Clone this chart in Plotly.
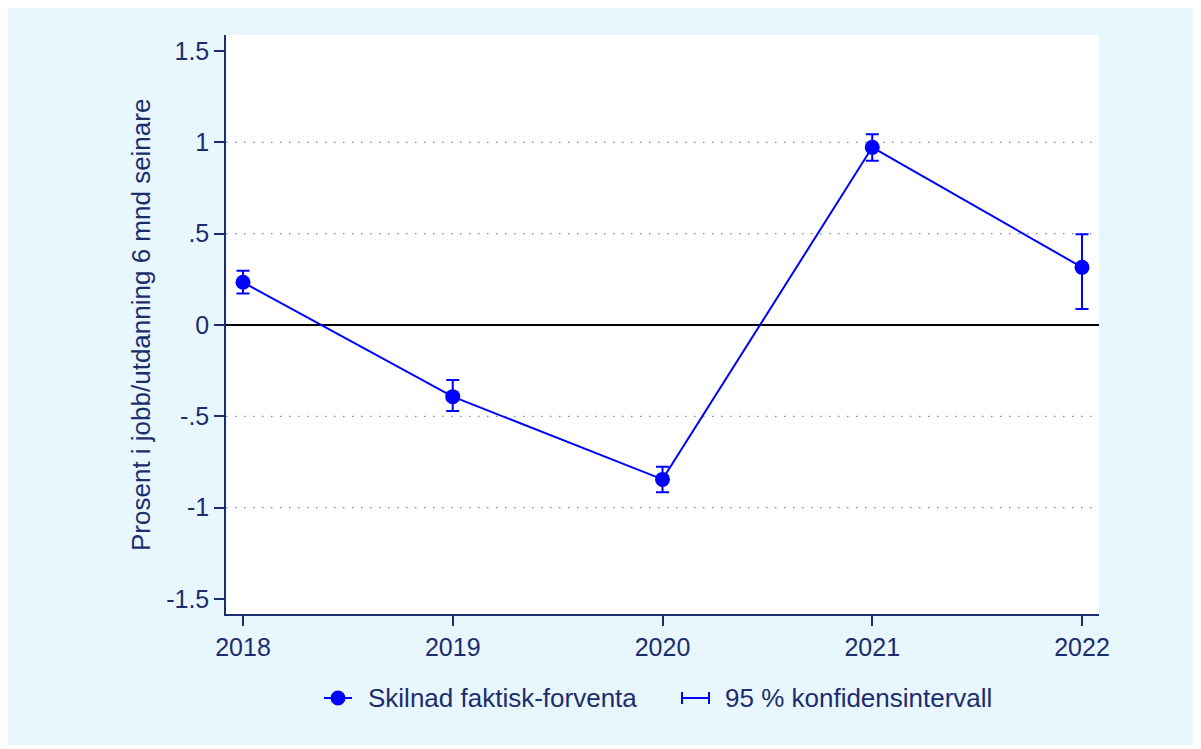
import plotly.graph_objects as go

years = [2018, 2019, 2020, 2021, 2022]
diff = [0.234, -0.392, -0.845, 0.973, 0.316]
ci_high = [0.297, -0.301, -0.776, 1.044, 0.497]
ci_low = [0.173, -0.471, -0.916, 0.899, 0.088]
ytick_vals = [-1.5, -1, -0.5, 0, 0.5, 1, 1.5]
ytick_text = ["-1.5", "-1", "-.5", "0", ".5", "1", "1.5"]
grid_vals = [-1, -0.5, 0.5, 1]

series_name = "Skilnad faktisk-forventa"
ci_name = "95 % konfidensintervall"
ytitle = "Prosent i jobb/utdanning 6 mnd seinare"

NAVY = "#1c2d6d"
BLUE = "#0000ff"
FONT = "Liberation Sans, Arial, sans-serif"

OFF = 8  # page body margin
W, H = 1201 - OFF, 749 - OFF
L, R, T, B = 226 - OFF, 1099 - OFF, 35 - OFF, 614 - OFF
pw, ph = R - L, B - T

def px_x(x):
    return (x - OFF - L) / pw

def px_y(y):
    return (B - (y - OFF)) / ph

fig = go.Figure()
fig.add_trace(go.Scatter(
    x=years, y=diff, mode="lines+markers",
    line=dict(color=BLUE, width=2),
    marker=dict(color=BLUE, size=15),
    error_y=dict(type="data", symmetric=False,
                 array=[h - d for h, d in zip(ci_high, diff)],
                 arrayminus=[d - l for d, l in zip(diff, ci_low)],
                 color=BLUE, thickness=2, width=6.5),
    showlegend=False, name=series_name,
))

shapes = []
# outer light-blue background
shapes.append(dict(type="rect", xref="paper", yref="paper",
                   x0=px_x(0), x1=px_x(1197), y0=px_y(745), y1=px_y(8),
                   fillcolor="#e8f6fd", line=dict(width=0), layer="below"))
# plot area white
shapes.append(dict(type="rect", xref="paper", yref="paper",
                   x0=0, x1=1, y0=0, y1=1,
                   fillcolor="white", line=dict(width=0), layer="below"))
for g in grid_vals:
    shapes.append(dict(type="line", xref="paper", yref="y", x0=0, x1=1, y0=g, y1=g,
                       line=dict(color="#7886b6", width=1.3, dash="1.5px,7.5px"), layer="below"))
shapes.append(dict(type="line", xref="paper", yref="y", x0=0, x1=1, y0=0, y1=0,
                   line=dict(color="black", width=2), layer="below"))

# manual legend
ly = px_y(698)
shapes.append(dict(type="line", xref="paper", yref="paper",
                   x0=px_x(324), x1=px_x(352), y0=ly, y1=ly,
                   line=dict(color=BLUE, width=2)))
shapes.append(dict(type="circle", xref="paper", yref="paper",
                   xsizemode="pixel", ysizemode="pixel",
                   xanchor=px_x(338), yanchor=ly, x0=-7.5, x1=7.5, y0=-7.5, y1=7.5,
                   fillcolor=BLUE, line=dict(color=BLUE, width=0)))
shapes.append(dict(type="line", xref="paper", yref="paper",
                   x0=px_x(682), x1=px_x(709), y0=ly, y1=ly,
                   line=dict(color=BLUE, width=2)))
for xx in (682, 709):
    shapes.append(dict(type="line", xref="paper", yref="paper",
                       x0=px_x(xx), x1=px_x(xx), y0=px_y(692), y1=px_y(704),
                       line=dict(color=BLUE, width=2)))

annotations = [
    dict(text=series_name, xref="paper", yref="paper", x=px_x(366), y=ly,
         xanchor="left", yanchor="middle", showarrow=False,
         font=dict(family=FONT, size=26, color=NAVY)),
    dict(text=ci_name, xref="paper", yref="paper", x=px_x(723), y=ly,
         xanchor="left", yanchor="middle", showarrow=False,
         font=dict(family=FONT, size=26, color=NAVY)),
    dict(text=ytitle, xref="paper", yref="paper", x=px_x(141), y=px_y(325),
         xanchor="center", yanchor="middle", textangle=-90, showarrow=False,
         font=dict(family=FONT, size=26, color=NAVY)),
]

fig.update_layout(
    width=W, height=H,
    margin=dict(l=L, r=W - R, t=T, b=H - B, pad=0),
    paper_bgcolor="white", plot_bgcolor="rgba(0,0,0,0)",
    font=dict(family=FONT, size=25, color=NAVY),
    shapes=shapes, annotations=annotations, showlegend=False,
)
fig.update_xaxes(range=[2017.919, 2022.081], tickvals=years,
                 ticktext=[str(y) for y in years],
                 showgrid=False, zeroline=False, showline=True,
                 linecolor=NAVY, linewidth=1.5, ticks="outside", ticklen=10,
                 tickcolor=NAVY, tickwidth=1.5,
                 tickfont=dict(family=FONT, size=25, color=NAVY))
fig.update_yaxes(range=[-1.582, 1.588], tickvals=ytick_vals, ticktext=ytick_text,
                 showgrid=False, zeroline=False, showline=True,
                 linecolor=NAVY, linewidth=1.5, ticks="outside", ticklen=10,
                 tickcolor=NAVY, tickwidth=1.5,
                 tickfont=dict(family=FONT, size=25, color=NAVY))

fig.write_html("out.html")
